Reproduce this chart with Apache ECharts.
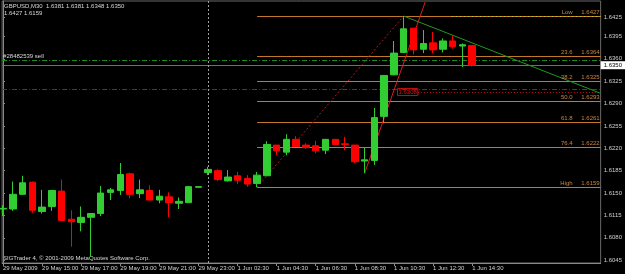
<!DOCTYPE html>
<html>
<head>
<meta charset="utf-8">
<script src="https://cdn.jsdelivr.net/npm/echarts@6/dist/echarts.min.js"></script>
<style>
html,body{margin:0;padding:0;background:#000;}
#chart{width:625px;height:274px;}
</style>
</head>
<body>
<div id="chart"></div>
<script>
// GBPUSD M30 bars, 29 May 13:00 .. 1 Jun 14:30
var times = ['29 May 13:00','29 May 13:30','29 May 14:00','29 May 14:30','29 May 15:00','29 May 15:30','29 May 16:00',
  '29 May 16:30','29 May 17:00','29 May 17:30','29 May 18:00','29 May 18:30','29 May 19:00','29 May 19:30',
  '29 May 20:00','29 May 20:30','29 May 21:00','29 May 21:30','29 May 22:00','29 May 22:30','29 May 23:00',
  '1 Jun 01:00','1 Jun 01:30','1 Jun 02:00','1 Jun 02:30','1 Jun 03:00','1 Jun 03:30','1 Jun 04:00',
  '1 Jun 04:30','1 Jun 05:00','1 Jun 05:30','1 Jun 06:00','1 Jun 06:30','1 Jun 07:00','1 Jun 07:30',
  '1 Jun 08:00','1 Jun 08:30','1 Jun 09:00','1 Jun 09:30','1 Jun 10:00','1 Jun 10:30','1 Jun 11:00',
  '1 Jun 11:30','1 Jun 12:00','1 Jun 12:30','1 Jun 13:00','1 Jun 13:30','1 Jun 14:00','1 Jun 14:30'];
var opens = [1.6125,1.6125,1.6148,1.6167,1.6121,1.6129,1.6153,1.6109,1.6104,1.6112,1.6118,1.6151,1.6154,1.6180,
  1.6149,1.6154,1.6139,1.6144,1.6134,1.6135,1.6159,1.6182,1.6185,1.6169,1.6177,1.6173,1.6165,1.6177,
  1.6225,1.6214,1.6234,1.6225,1.6224,1.6217,1.6234,1.6227,1.6225,1.6200,1.6201,1.6270,1.6335,1.6370,
  1.6408,1.6375,1.6385,1.6375,1.6388,1.6380,1.6381];
var highs = [1.6131,1.6168,1.6177,1.6168,1.6155,1.6155,1.6171,1.6123,1.6129,1.6118,1.6161,1.6158,1.6197,1.6182,
  1.6171,1.6162,1.6155,1.6151,1.6143,1.6160,1.6160,1.6191,1.6187,1.6186,1.6183,1.6178,1.6183,1.6231,
  1.6225,1.6242,1.6239,1.6228,1.6232,1.6234,1.6234,1.6238,1.6225,1.6221,1.6283,1.6334,1.6388,1.6427,
  1.6408,1.6405,1.6402,1.6392,1.6397,1.6384,1.6381];
var lows = [1.6114,1.6122,1.6147,1.6119,1.6118,1.6122,1.6106,1.6066,1.6090,1.6050,1.6114,1.6139,1.6147,1.6142,
  1.6142,1.6139,1.6134,1.6112,1.6125,1.6135,1.6158,1.6178,1.6169,1.6168,1.6164,1.6160,1.6159,1.6177,
  1.6209,1.6209,1.6223,1.6219,1.6212,1.6211,1.6226,1.6217,1.6197,1.6181,1.6194,1.6259,1.6334,1.6370,
  1.6367,1.6369,1.6369,1.6370,1.6376,1.6347,1.6348];
var closes = [1.6126,1.6148,1.6166,1.6123,1.6128,1.6154,1.6107,1.6105,1.6112,1.6118,1.6150,1.6155,1.6179,1.6148,
  1.6155,1.6139,1.6145,1.6135,1.6137,1.6160,1.6160,1.6187,1.6171,1.6175,1.6170,1.6164,1.6178,1.6226,
  1.6216,1.6234,1.6223,1.6221,1.6216,1.6234,1.6226,1.6226,1.6199,1.6202,1.6268,1.6334,1.6369,1.6407,
  1.6374,1.6384,1.6374,1.6388,1.6379,1.6382,1.6350];

var xTickIdx = [0,4,8,12,16,20,24,28,32,36,40,44,48];
var xLabels = ['29 May 2009','29 May 15:00','29 May 17:00','29 May 19:00','29 May 21:00','29 May 23:00',
  '1 Jun 02:30','1 Jun 04:30','1 Jun 06:30','1 Jun 08:30','1 Jun 10:30','1 Jun 12:30','1 Jun 14:30'];
var yTicks = [1.6045,1.6080,1.6115,1.6150,1.6185,1.6220,1.6255,1.6290,1.6325,1.6360,1.6395,1.6425];

var fibNames = ['Low','23.6','38.2','50.0','61.8','76.4','High'];
var fibLevels = [1.6427,1.6364,1.6325,1.6293,1.6261,1.6222,1.6159];
var sellPrice = 1.6357;
var redLevel = 1.6313;
var stopLevel = 1.6308;
var bidPrice = 1.6350;

var xMin = -0.09, xMax = 61.15;
var font = 'Liberation Sans';
var last = opens.length - 1;

var chart = echarts.init(document.getElementById('chart'));

var lines = [];
// fibonacci levels
fibLevels.forEach(function (lv, i) {
  lines.push([
    { coord: [26, lv], lineStyle: { color: '#c4762a', width: 1, type: 'solid' },
      label: { show: true, position: 'insideEndTop', distance: 1,
        formatter: '{n|' + fibNames[i] + '}{v|' + lv.toFixed(4) + '}',
        rich: { n: { width: 21, align: 'right', fontSize: 6, color: '#cd853f', fontFamily: font },
                v: { width: 27, align: 'right', fontSize: 6, color: '#cd853f', fontFamily: font } } } },
    { coord: [xMax, lv] }
  ]);
});
// yellow dotted at the top level
lines.push([{ coord: [45.9, fibLevels[0]], lineStyle: { color: '#c0c030', type: [2, 2], width: 1 }, label: { show: false } },
  { coord: [xMax, fibLevels[0]] }]);
// order line
lines.push([{ coord: [xMin, sellPrice], lineStyle: { color: '#1f8f1f', type: [5, 2, 1, 2], width: 1 },
  label: { show: true, position: 'insideStartTop', distance: 1, formatter: '#28482539 sell',
    color: '#d8d8d8', fontSize: 6, fontFamily: font } },
  { coord: [xMax, sellPrice] }]);
// red dash-dot
lines.push([{ coord: [xMin, redLevel], lineStyle: { color: '#b01010', type: [5, 2, 1, 2], width: 1 }, label: { show: false } },
  { coord: [xMax, redLevel] }]);
// red dotted with price box
lines.push([{ coord: [42.45, stopLevel], lineStyle: { color: '#c01010', type: [1, 2], width: 1 },
  label: { show: true, position: 'start', distance: 0, formatter: stopLevel.toFixed(4), color: '#e01010',
    fontSize: 6, fontFamily: font, borderColor: '#c01010', borderWidth: 1, padding: [1, 1, 0, 1] } },
  { coord: [xMax, stopLevel] }]);
// bid line
lines.push([{ coord: [xMin, bidPrice], lineStyle: { color: '#707070', type: 'solid', width: 1 },
  label: { show: true, position: 'end', distance: 0, formatter: bidPrice.toFixed(4), color: '#000',
    backgroundColor: '#fff', fontSize: 6, fontFamily: font, padding: [1, 3, 1, 3] } },
  { coord: [xMax, bidPrice] }]);
// trend lines
lines.push([{ coord: [26, lows[26]], lineStyle: { color: '#b41818', type: [2, 2], width: 1 }, label: { show: false } },
  { coord: [41, highs[41]] }]);
lines.push([{ coord: [37, lows[37]], lineStyle: { color: '#e01c1c', type: 'solid', width: 1 }, label: { show: false } },
  { coord: [43.2, 1.6449] }]);
lines.push([{ coord: [41, highs[41]], lineStyle: { color: '#1e9a1e', type: 'solid', width: 1 }, label: { show: false } },
  { coord: [xMax, 1.6306] }]);
// day separator
lines.push({ xAxis: 21, lineStyle: { color: '#a0a0a0', type: [2, 2], width: 1 }, label: { show: false } });

var option = {
  backgroundColor: '#000',
  animation: false,
  textStyle: { fontFamily: font },
  grid: { left: 1, right: 22, top: 1, bottom: 11, show: true, borderColor: '#6a6a6a', borderWidth: 1, backgroundColor: '#000' },
  graphic: [
    { type: 'text', left: 4, top: 3, style: { text: 'GBPUSD,M30  ' + opens[last].toFixed(4) + ' ' + highs[last].toFixed(4) + ' ' +
      lows[last].toFixed(4) + ' ' + closes[last].toFixed(4), fill: '#d8d8d8', font: '6px ' + font } },
    { type: 'text', left: 4, top: 10, style: { text: fibLevels[0].toFixed(4) + ' ' + fibLevels[6].toFixed(4), fill: '#d8d8d8', font: '6px ' + font } },
    { type: 'text', left: 3, top: 255, style: { text: 'SIGTrader 4, \u00a9 2001-2009 MetaQuotes Software Corp.', fill: '#d8d8d8', font: '6px ' + font } }
  ],
  xAxis: {
    type: 'value', min: xMin, max: xMax,
    splitLine: { show: false },
    axisLine: { show: true, onZero: false, lineStyle: { color: '#8a8a8a', width: 1 } },
    axisTick: { show: true, length: 3, customValues: xTickIdx, lineStyle: { color: '#8a8a8a' } },
    axisLabel: {
      customValues: xTickIdx, color: '#d0d0d0', fontSize: 6, margin: 2, align: 'left',
      formatter: function (v) { return xLabels[xTickIdx.indexOf(Math.round(v))]; }
    }
  },
  yAxis: {
    type: 'value', position: 'right', min: 1.60405, max: 1.64505, scale: true,
    splitLine: { show: false },
    axisLine: { show: true, lineStyle: { color: '#8a8a8a', width: 1 } },
    axisTick: { show: true, length: 2, customValues: yTicks, lineStyle: { color: '#8a8a8a' } },
    axisLabel: {
      customValues: yTicks, color: '#d0d0d0', fontSize: 6, margin: 3,
      formatter: function (v) { return v.toFixed(4); }
    }
  },
  series: [{
    type: 'candlestick',
    barWidth: 7,
    encode: { x: 0, y: [1, 2, 3, 4] },
    data: times.map(function (t, i) { return [i, opens[i], closes[i], lows[i], highs[i]]; }),
    itemStyle: { color: '#32cd32', color0: '#ff0000', borderColor: '#32cd32', borderColor0: '#ff0000', borderWidth: 1 },
    markLine: { silent: true, symbol: 'none', animation: false, z: 1, data: lines }
  }]
};
chart.setOption(option);
window.onresize = chart.resize;
</script>
</body>
</html>
